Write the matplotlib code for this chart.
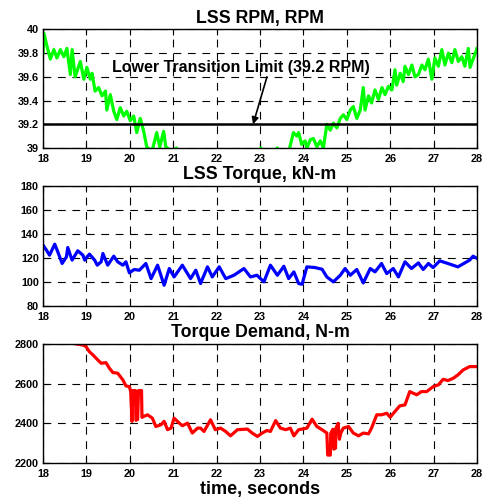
import matplotlib
matplotlib.use("Agg")
import matplotlib.pyplot as plt

plt.rcParams['font.family'] = ['Liberation Sans', 'DejaVu Sans']
plt.rcParams['font.weight'] = 'bold'

# ---- LSS rotor speed (RPM) ----
rpm_t = [18.00, 18.02, 18.09, 18.17, 18.25, 18.32, 18.40, 18.48, 18.55, 18.63,
         18.67, 18.74, 18.86, 18.94, 19.01, 19.09, 19.13, 19.20, 19.28, 19.36,
         19.44, 19.47, 19.55, 19.63, 19.70, 19.78, 19.86, 19.93, 20.01, 20.09,
         20.16, 20.24, 20.32, 20.39, 20.51, 20.62, 20.69, 20.78, 20.83, 20.93,
         21.01, 21.07, 21.16, 21.50, 22.00, 22.50, 22.90, 23.02, 23.10, 23.30,
         23.40, 23.50, 23.65, 23.73, 23.77, 23.85, 23.89, 23.96, 24.04, 24.08,
         24.16, 24.23, 24.31, 24.39, 24.46, 24.54, 24.62, 24.69, 24.77, 24.85,
         24.92, 25.00, 25.08, 25.15, 25.23, 25.31, 25.38, 25.42, 25.50, 25.57,
         25.65, 25.73, 25.81, 25.88, 25.96, 26.04, 26.11, 26.15, 26.23, 26.30,
         26.34, 26.42, 26.50, 26.57, 26.65, 26.73, 26.80, 26.88, 26.96, 27.03,
         27.11, 27.19, 27.26, 27.34, 27.42, 27.49, 27.57, 27.65, 27.72, 27.80,
         27.84, 27.92, 28.00]
rpm_val = [39.80, 39.97, 39.86, 39.75, 39.83, 39.76, 39.83, 39.77, 39.84, 39.62,
           39.83, 39.60, 39.73, 39.58, 39.68, 39.58, 39.63, 39.48, 39.51, 39.44,
           39.48, 39.32, 39.45, 39.31, 39.24, 39.34, 39.27, 39.31, 39.23, 39.27,
           39.13, 39.25, 39.14, 39.01, 38.97, 39.13, 39.01, 39.14, 39.01, 38.98,
           38.93, 39.00, 38.90, 38.85, 38.80, 38.82, 38.90, 39.00, 38.90, 38.92,
           39.00, 38.90, 38.95, 39.07, 39.13, 39.10, 39.13, 39.03, 39.06, 39.00,
           39.07, 39.08, 39.01, 39.06, 39.00, 39.20, 39.15, 39.21, 39.17, 39.25,
           39.28, 39.24, 39.32, 39.35, 39.25, 39.32, 39.51, 39.32, 39.44, 39.38,
           39.49, 39.41, 39.51, 39.45, 39.52, 39.49, 39.66, 39.53, 39.63, 39.56,
           39.69, 39.62, 39.70, 39.60, 39.62, 39.70, 39.66, 39.75, 39.58, 39.76,
           39.69, 39.83, 39.70, 39.80, 39.72, 39.83, 39.73, 39.77, 39.69, 39.84,
           39.68, 39.76, 39.84]
rpm_limit = 39.2

# ---- LSS torque (kN-m) ----
tq_t = [18.00, 18.08, 18.15, 18.27, 18.34, 18.44, 18.54, 18.57, 18.67, 18.80,
        18.92, 18.96, 19.07, 19.19, 19.25, 19.34, 19.38, 19.49, 19.63, 19.72,
        19.84, 19.91, 19.99, 20.10, 20.22, 20.37, 20.49, 20.64, 20.79, 20.91,
        21.02, 21.21, 21.40, 21.52, 21.63, 21.79, 21.90, 22.06, 22.21, 22.40,
        22.63, 22.78, 22.93, 23.09, 23.24, 23.40, 23.55, 23.66, 23.78, 23.89,
        23.97, 24.08, 24.27, 24.43, 24.54, 24.69, 24.85, 24.96, 25.08, 25.23,
        25.38, 25.54, 25.65, 25.80, 25.92, 26.07, 26.19, 26.34, 26.49, 26.65,
        26.76, 26.88, 26.99, 27.14, 27.33, 27.56, 27.72, 27.83, 27.91, 28.00]
tq_val = [130.7, 126.5, 122.3, 131.5, 125.1, 115.4, 120.9, 128.7, 118.2, 126.0,
          122.3, 118.2, 123.2, 118.2, 114.0, 116.8, 123.7, 114.0, 121.5, 116.8,
          114.0, 116.8, 107.6, 110.4, 109.8, 115.4, 102.8, 114.0, 97.3, 111.2,
          104.2, 114.0, 102.8, 109.8, 98.7, 112.6, 104.2, 112.6, 102.8, 105.6,
          111.2, 104.2, 105.6, 100.1, 114.0, 105.6, 113.1, 102.8, 108.4, 98.7,
          98.1, 112.6, 112.0, 110.6, 104.2, 100.1, 105.6, 111.2, 105.6, 110.4,
          99.2, 111.2, 108.4, 115.4, 107.0, 111.2, 104.2, 116.8, 111.2, 115.9,
          110.4, 115.4, 112.0, 117.6, 115.4, 112.6, 115.9, 118.2, 121.5, 119.6]

# ---- Torque demand (N-m) ----
td_t = [18.77, 18.92, 18.99, 19.07, 19.15, 19.26, 19.34, 19.45, 19.53, 19.61,
        19.72, 19.84, 19.91, 19.99, 20.02, 20.05, 20.07, 20.13, 20.14, 20.18,
        20.20, 20.27, 20.28, 20.32, 20.41, 20.52, 20.60, 20.72, 20.79, 20.87,
        20.95, 21.02, 21.14, 21.21, 21.33, 21.44, 21.56, 21.63, 21.71, 21.86,
        21.97, 22.09, 22.21, 22.32, 22.48, 22.71, 22.82, 22.94, 23.05, 23.16,
        23.24, 23.36, 23.47, 23.59, 23.70, 23.78, 23.89, 23.97, 24.08, 24.20,
        24.31, 24.43, 24.54, 24.56, 24.62, 24.63, 24.68, 24.70, 24.74, 24.75,
        24.80, 24.83, 24.86, 24.92, 25.04, 25.15, 25.27, 25.38, 25.50, 25.57,
        25.69, 25.80, 25.92, 26.00, 26.11, 26.22, 26.34, 26.45, 26.61, 26.72,
        26.84, 26.99, 27.11, 27.22, 27.33, 27.45, 27.56, 27.68, 27.83, 28.00]
td_val = [2800, 2795, 2787, 2761, 2745, 2720, 2703, 2706, 2678, 2656,
          2653, 2619, 2589, 2585, 2560, 2410, 2565, 2565, 2415, 2420,
          2565, 2565, 2430, 2435, 2443, 2426, 2384, 2393, 2410, 2368,
          2376, 2426, 2401, 2388, 2401, 2351, 2376, 2376, 2359, 2418,
          2368, 2376, 2359, 2337, 2368, 2371, 2351, 2334, 2351, 2364,
          2359, 2414, 2376, 2368, 2376, 2337, 2368, 2371, 2376, 2421,
          2384, 2368, 2351, 2240, 2240, 2350, 2370, 2270, 2275, 2375,
          2400, 2320, 2350, 2376, 2384, 2351, 2337, 2351, 2347, 2376,
          2443, 2443, 2451, 2431, 2460, 2488, 2493, 2560, 2544, 2560,
          2560, 2585, 2594, 2622, 2616, 2627, 2644, 2669, 2686, 2686]

x_ticks = list(range(18, 29))
rpm_ticks = [39, 39.2, 39.4, 39.6, 39.8, 40]
rpm_ticklabels = ['39', '39.2', '39.4', '39.6', '39.8', '40']
tq_ticks = [80, 100, 120, 140, 160, 180]
td_ticks = [2200, 2400, 2600, 2800]

fig = plt.figure(figsize=(4.85, 5.03), dpi=100)
ax1 = fig.add_axes([0.0887, 0.7058, 0.8948, 0.2356])
ax2 = fig.add_axes([0.0887, 0.3917, 0.8948, 0.2386])
ax3 = fig.add_axes([0.0887, 0.0795, 0.8948, 0.2366])


def style(ax, yticks, ylim, title, yticklabels=None):
    ax.set_xlim(18, 28)
    ax.set_ylim(*ylim)
    ax.set_xticks(x_ticks)
    ax.set_yticks(yticks)
    if yticklabels is not None:
        ax.set_yticklabels(yticklabels)
    ax.tick_params(direction='in', length=4, width=0.8, labelsize=7.8,
                   top=True, right=True)
    ax.tick_params(axis='x', pad=4)
    ax.tick_params(axis='y', pad=3)
    for lab in ax.get_xticklabels() + ax.get_yticklabels():
        lab.set_fontweight('bold')
    ax.grid(True, color='black', linestyle=(0, (7, 6)), linewidth=0.8)
    for s in ax.spines.values():
        s.set_linewidth(1.0)
        s.set_color('black')
    ax.set_title(title, fontsize=12.8, fontweight='bold', pad=5)


style(ax1, rpm_ticks, (39, 40), 'LSS RPM, RPM', rpm_ticklabels)
ax1.plot(rpm_t, rpm_val, color='#00ff00', linewidth=2.3)
ax1.axhline(rpm_limit, color='black', linewidth=1.8)
ax1.text(22.56, 39.68, 'Lower Transition Limit (39.2 RPM)', ha='center',
         va='center', fontsize=11.5, fontweight='bold')
ax1.annotate('', xy=(22.84, rpm_limit), xytext=(23.16, 39.6),
             arrowprops=dict(arrowstyle='-|>', color='black', lw=1.2,
                             mutation_scale=10, shrinkA=0, shrinkB=0))

style(ax2, tq_ticks, (80, 180), 'LSS Torque, kN-m')
ax2.plot(tq_t, tq_val, color='#0000ff', linewidth=2.3)

style(ax3, td_ticks, (2200, 2800), 'Torque Demand, N-m')
ax3.plot(td_t, td_val, color='#ff0000', linewidth=2.3)
ax3.set_xlabel('time, seconds', fontsize=13, fontweight='bold', labelpad=2)

fig.savefig('out.png', dpi=100)
